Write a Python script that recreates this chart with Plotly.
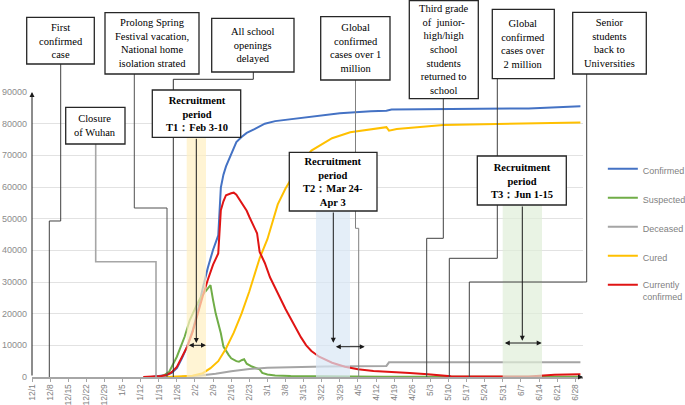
import plotly.graph_objects as go
import pandas as pd

# ---------------- data ----------------
confirmed_dates = ["2020-01-16", "2020-01-19", "2020-01-22", "2020-01-24", "2020-01-26", "2020-01-28",
                   "2020-01-30", "2020-02-01", "2020-02-03", "2020-02-05", "2020-02-07", "2020-02-09",
                   "2020-02-11", "2020-02-12", "2020-02-13", "2020-02-14", "2020-02-15", "2020-02-16",
                   "2020-02-18", "2020-02-20", "2020-02-22", "2020-02-25", "2020-02-29", "2020-03-04",
                   "2020-03-10", "2020-03-20", "2020-03-29", "2020-04-10", "2020-04-16", "2020-04-18",
                   "2020-05-15", "2020-06-10", "2020-06-30"]
confirmed_values = [0, 200, 600, 1300, 2800, 6000,
                    9700, 14400, 20500, 28000, 34600, 40200,
                    44700, 59800, 63900, 66500, 68500, 70500,
                    74200, 75800, 77100, 78300, 80000, 80800,
                    81400, 82300, 83300, 83900, 84100, 84500,
                    84700, 84800, 85500]

suspected_dates = ["2020-01-19", "2020-01-21", "2020-01-23", "2020-01-26", "2020-01-29", "2020-01-31",
                   "2020-02-03", "2020-02-04", "2020-02-06", "2020-02-08", "2020-02-09", "2020-02-10",
                   "2020-02-12", "2020-02-13", "2020-02-15", "2020-02-16", "2020-02-18", "2020-02-19",
                   "2020-02-20", "2020-02-21", "2020-02-22", "2020-02-24", "2020-02-27", "2020-02-28",
                   "2020-03-01", "2020-03-04", "2020-03-10", "2020-03-25", "2020-04-15", "2020-06-30"]
suspected_values = [0, 500, 1600, 6400, 12700, 18000,
                    23300, 24800, 27000, 29000, 24300, 20100,
                    13800, 9600, 7000, 5900, 5000, 4800,
                    5300, 5600, 4200, 3300, 2400, 1300,
                    800, 500, 300, 200, 100, 50]

deceased_dates = ["2020-01-20", "2020-01-28", "2020-02-04", "2020-02-10", "2020-02-16", "2020-02-23",
                  "2020-03-01", "2020-03-10", "2020-03-23", "2020-04-16", "2020-04-17", "2020-06-30"]
deceased_values = [0, 100, 500, 1000, 1800, 2500,
                   2900, 3150, 3350, 3500, 4640, 4640]

cured_dates = ["2020-01-22", "2020-01-28", "2020-02-01", "2020-02-05", "2020-02-08", "2020-02-11",
               "2020-02-14", "2020-02-17", "2020-02-20", "2020-02-23", "2020-02-27", "2020-03-01",
               "2020-03-03", "2020-03-05", "2020-03-08", "2020-03-13", "2020-03-18", "2020-03-26",
               "2020-04-02", "2020-04-10", "2020-04-16", "2020-04-17", "2020-04-20", "2020-05-08",
               "2020-05-31", "2020-06-30"]
cured_values = [0, 100, 400, 1200, 2800, 5000,
                9000, 14000, 20000, 27000, 37500, 43500,
                49000, 54500, 59500, 66400, 71500, 75400,
                77300, 78200, 78900, 77800, 78300, 79600,
                80000, 80400]

current_dates = ["2020-01-13", "2020-01-17", "2020-01-20", "2020-01-22", "2020-01-24", "2020-01-26",
                 "2020-01-28", "2020-01-30", "2020-02-01", "2020-02-03", "2020-02-05", "2020-02-07",
                 "2020-02-09", "2020-02-11", "2020-02-12", "2020-02-13", "2020-02-14", "2020-02-16",
                 "2020-02-17", "2020-02-18", "2020-02-20", "2020-02-22", "2020-02-23", "2020-02-25",
                 "2020-02-26", "2020-02-27", "2020-02-29", "2020-03-02", "2020-03-05", "2020-03-08",
                 "2020-03-11", "2020-03-14", "2020-03-16", "2020-03-18", "2020-03-21", "2020-03-24",
                 "2020-03-26", "2020-03-31", "2020-04-05", "2020-04-11", "2020-04-17", "2020-04-25",
                 "2020-05-02", "2020-05-08", "2020-05-11", "2020-06-10", "2020-06-15", "2020-06-20",
                 "2020-06-30"]
current_values = [0, 100, 300, 600, 1500, 3200,
                  6500, 9600, 14000, 20000, 25500, 30800,
                  35500, 39000, 52700, 55500, 57400, 58000,
                  58200, 57600, 55000, 52500, 50600, 47000,
                  45400, 39500, 36000, 31500, 26400, 21500,
                  17000, 12500, 10000, 8200, 6400, 5200,
                  4500, 3250, 2450, 1900, 1700, 1300,
                  850, 400, 200, 150, 400, 700,
                  850]

series_names = ["Confirmed", "Suspected", "Deceased", "Cured", "Currently<br>confirmed"]
series_colors = ["#4472C4", "#70AD47", "#A5A5A5", "#FFC000", "#E01414"]

tick_labels = ["12/1", "12/8", "12/15", "12/22", "12/29", "1/5", "1/12", "1/19", "1/26", "2/2", "2/9",
               "2/16", "2/23", "3/1", "3/8", "3/15", "3/22", "3/29", "4/5", "4/12", "4/19", "4/26",
               "5/3", "5/10", "5/17", "5/24", "5/31", "6/7", "6/14", "6/21", "6/28"]
tick_dates = [d.strftime("%Y-%m-%d") for d in pd.date_range("2019-12-01", periods=len(tick_labels), freq="7D")]
y_ticks = [0, 10000, 20000, 30000, 40000, 50000, 60000, 70000, 80000, 90000]
y_tick_labels = [str(v) for v in y_ticks]

# event boxes (text) and recruitment periods
event_texts = ["First<br>confirmed<br>case",
               "Prolong Spring<br>Festival vacation,<br>National home<br>isolation strated",
               "All school<br>openings<br>delayed",
               "Global<br>confirmed<br>cases over 1<br>million",
               "Third grade<br>of  junior-<br>high/high<br>school<br>students<br>returned to<br>school",
               "Global<br>confirmed<br>cases over<br>2 million",
               "Senior<br>students<br>back to<br>Universities",
               "Closure<br>of Wuhan"]
period_texts = ["<b>Recruitment<br>period<br>T1：Feb 3-10</b>",
                "<b>Recruitment<br>period<br>T2：Mar 24-<br>Apr 3</b>",
                "<b>Recruitment<br>period<br>T3：Jun 1-15</b>"]

# ---------------- layout geometry (page pixels of the 685x405 view) ----------------
PL, PR, PT, PB = 32, 583, 92, 377


def px(x, y):
    return (x - PL) / (PR - PL), (PB - y) / (PB - PT)


event_boxes = [(26.7, 17.3, 94.3, 64), (105, 12.7, 199, 74), (211.7, 18.3, 294, 72),
               (320.7, 16.7, 390, 80), (409.3, 0.7, 478.3, 98.7), (492.3, 9.3, 554.3, 78.7),
               (572.7, 12.3, 646.3, 74), (65.7, 107.3, 125, 144)]
period_boxes = [(152.3, 90, 240.7, 137.3), (289.3, 152.3, 377, 211), (477.3, 156, 566.3, 205)]
period_shades = [((186.7, 137.3, 206, PB), "#FFEFC2"), ((316, 211, 350, PB), "#D9E7F5"),
                 ((502.7, 205, 542, PB), "#E0EED8")]
connectors = [
    ([(60.7, 64), (60.7, 221), (49.3, 221), (49.3, PB)], "#404040", 1),
    ([(95.7, 144), (95.7, 261.7), (156, 261.7), (156, PB)], "#A6A6A6", 1.6),
    ([(134.3, 74), (134.3, 208), (167, 208), (167, PB)], "#505050", 1),
    ([(253.3, 72), (253.3, 79.3), (173.3, 79.3), (173.3, PB)], "#303030", 1),
    ([(355.5, 80), (355.5, 228.3), (358.7, 228.3), (358.7, PB)], "#808080", 1),
    ([(443.3, 98.7), (443.3, 238.3), (426.7, 238.3), (426.7, PB)], "#404040", 1),
    ([(497.3, 78.7), (497.3, 258.3), (449.3, 258.3), (449.3, PB)], "#404040", 1),
    ([(586.7, 74), (586.7, 282), (469.3, 282), (469.3, PB)], "#404040", 1),
]
down_arrows = [(196.3, 137.3, 343), (333.3, 211, 342.7), (522.3, 205, 340.7)]
double_arrows = [(187.3, 206, 345.3), (334.3, 364.7, 346.7), (503.3, 541.7, 343)]

# ---------------- figure ----------------
fig = go.Figure()
all_series = [(confirmed_dates, confirmed_values), (suspected_dates, suspected_values),
              (deceased_dates, deceased_values), (cured_dates, cured_values),
              (current_dates, current_values)]
for i, ((xs, ys), name, color) in enumerate(zip(all_series, series_names, series_colors)):
    fig.add_trace(go.Scatter(x=xs, y=ys, mode="lines", name=name, legendgroup=str(i),
                             line=dict(color=color, width=2)))

shapes = []
for (x0, y0, x1, y1), col in period_shades:
    a, b = px(x0, y1)
    c, d = px(x1, y0)
    shapes.append(dict(type="rect", xref="paper", yref="paper", x0=a, y0=b, x1=c, y1=d,
                       fillcolor=col, opacity=0.7, line=dict(width=0), layer="above"))
for pts, col, w in connectors:
    path = " ".join(("M" if k == 0 else "L") + "%.5f,%.5f" % px(x, y) for k, (x, y) in enumerate(pts))
    shapes.append(dict(type="path", xref="paper", yref="paper", path=path,
                       line=dict(color=col, width=w), layer="above"))
for (x0, y0, x1, y1) in event_boxes + period_boxes:
    a, b = px(x0, y1)
    c, d = px(x1, y0)
    shapes.append(dict(type="rect", xref="paper", yref="paper", x0=a, y0=b, x1=c, y1=d,
                       fillcolor="white", line=dict(color="#262626", width=1.3), layer="above"))

annotations = []
serif = "Liberation Serif, Times New Roman, serif"
for (x0, y0, x1, y1), txt in zip(event_boxes + period_boxes, event_texts + period_texts):
    cx, cy = px((x0 + x1) / 2, (y0 + y1) / 2)
    annotations.append(dict(xref="paper", yref="paper", x=cx, y=cy, text=txt, showarrow=False,
                            xanchor="center", yanchor="middle", align="center",
                            font=dict(family=serif, size=10.5, color="black")))
for (x, y0, y1) in down_arrows:
    tx, ty = px(x, y1)
    annotations.append(dict(xref="paper", yref="paper", x=tx, y=ty, ax=0, ay=-(y1 - y0), text="",
                            showarrow=True, arrowhead=2, arrowsize=1, arrowwidth=1, arrowcolor="#1a1a1a"))
for (x0, x1, y) in double_arrows:
    tx, ty = px(x1, y)
    annotations.append(dict(xref="paper", yref="paper", x=tx, y=ty, ax=-(x1 - x0), ay=0, text="",
                            showarrow=True, arrowhead=2, startarrowhead=2, arrowside="end+start",
                            arrowsize=1, startarrowsize=1, arrowwidth=1, arrowcolor="#1a1a1a"))
# axis arrows
annotations.append(dict(xref="paper", yref="paper", x=0, y=1, ax=0, ay=PB - PT, text="",
                        showarrow=True, arrowhead=2, arrowsize=1, arrowwidth=1, arrowcolor="#1a1a1a"))
annotations.append(dict(xref="paper", yref="paper", x=1, y=0, ax=-6, ay=0, text="",
                        showarrow=True, arrowhead=2, arrowsize=1, arrowwidth=1, arrowcolor="#1a1a1a"))

sans = "Liberation Sans, Arial, sans-serif"
W, H = 685, 405
fig.update_layout(
    width=W, height=H,
    margin=dict(l=PL, r=W - PR, t=PT, b=H - PB, autoexpand=False),
    paper_bgcolor="white", plot_bgcolor="white",
    shapes=shapes, annotations=annotations,
    legend=dict(x=1.036, xanchor="left", y=0.774, yanchor="top", valign="top",
                font=dict(family=sans, size=9, color="#7f7f7f"), tracegroupgap=10,
                bgcolor="rgba(0,0,0,0)", itemwidth=30),
    xaxis=dict(type="date", range=["2019-12-01", "2020-07-01"], tickmode="array",
               tickvals=tick_dates, ticktext=tick_labels, tickangle=-90,
               tickfont=dict(family=sans, size=8.5, color="#808080"),
               showgrid=False, showline=True, linecolor="#A6A6A6", linewidth=1.5,
               ticks="outside", ticklen=3, tickcolor="#A6A6A6", zeroline=False, automargin=False,
               ticklabelstandoff=-1),
    yaxis=dict(range=[0, 90000], tickmode="array", tickvals=y_ticks, ticktext=y_tick_labels,
               showgrid=True, gridcolor="#E2E2E2", gridwidth=1, showline=False, zeroline=False,
               tickfont=dict(family=sans, size=9, color="#8c8c8c"), automargin=False,
               ticklabelstandoff=4),
)

# remove the browser's default 8px page margin so the figure fills the view exactly
fig.write_html("out.html", config={"displayModeBar": False},
               post_script="document.body.style.margin='0';")
